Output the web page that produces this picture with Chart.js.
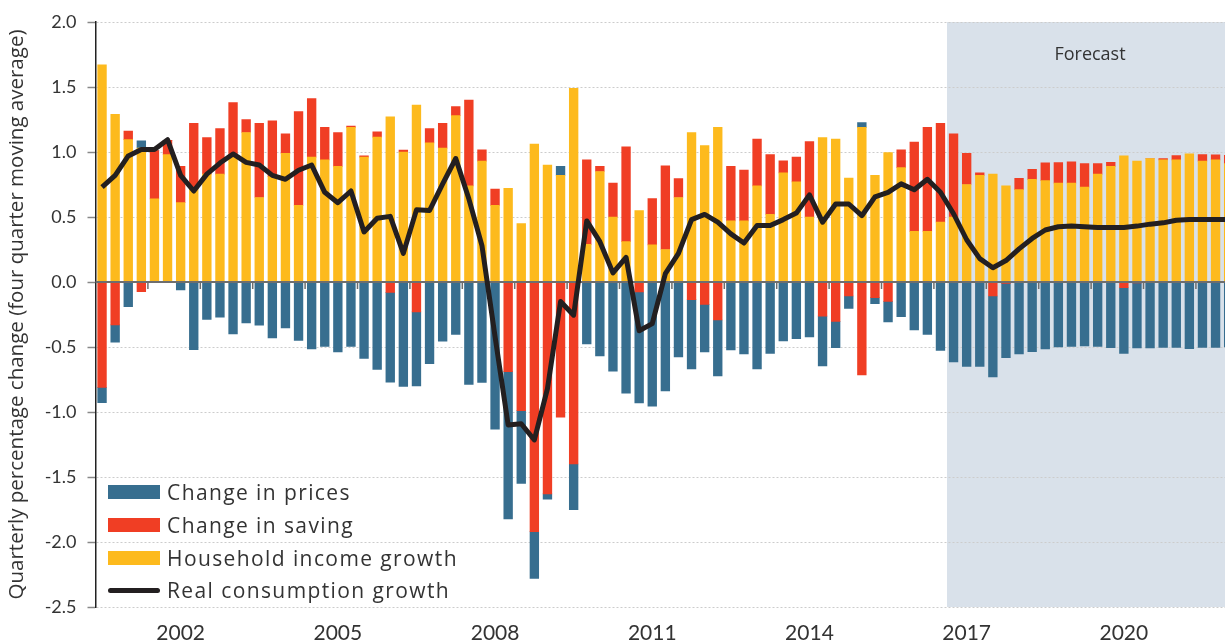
<!DOCTYPE html>
<html>
<head>
<meta charset="utf-8">
<script src="https://cdn.jsdelivr.net/npm/chart.js@4.4.1/dist/chart.umd.min.js"></script>
<style>
  html, body { margin: 0; padding: 0; background: #fff; overflow: hidden; }
  #wrap { position: relative; width: 1225px; height: 644px; }
  #legend { position: absolute; left: 108px; top: 476px; font-family: "Open Sans", Lato, sans-serif; font-size: 21px; letter-spacing: 1.4px; color: #333; }
  #legend .item { height: 32.7px; display: flex; align-items: center; white-space: nowrap; }
  #legend .swatch { width: 52px; height: 14px; margin-right: 7px; flex: none; }
  #legend .swatch.line { height: 5px; border-radius: 3px; }
</style>
</head>
<body>
<div id="wrap">
  <canvas id="chart" width="1225" height="644"></canvas>
  <div id="legend"></div>
</div>
<script>
// quarterly data, first bar is 2001 Q1
const startYear = 2001;

const income = [
  1.67, 1.29, 1.095, 1.03, 0.64, 0.98, 0.61, 0.72, 0.83, 0.83,
  0.98, 1.15, 0.65, 0.81, 0.99, 0.59, 0.96, 0.94, 0.89, 1.19,
  0.96, 1.115, 1.27, 1.00, 1.36, 1.07, 1.03, 1.28, 0.74, 0.93,
  0.59, 0.72, 0.45, 1.06, 0.90, 0.82, 1.49, 0.29, 0.85, 0.50,
  0.31, 0.55, 0.285, 0.25, 0.65, 1.15, 1.05, 1.19, 0.47, 0.47,
  0.74, 0.52, 0.84, 0.77, 0.50, 1.11, 1.10, 0.80, 1.19, 0.82,
  0.995, 0.88, 0.39, 0.39, 0.46, 0.50, 0.75, 0.82, 0.83, 0.74,
  0.71, 0.79, 0.78, 0.76, 0.76, 0.73, 0.83, 0.89, 0.97, 0.93,
  0.95, 0.94, 0.94, 0.985, 0.93, 0.94, 0.91
];

const saving = [
  -0.81, -0.33, 0.065, -0.074, 0.37, 0.11, 0.28, 0.50, 0.28, 0.35,
  0.40, 0.10, 0.57, 0.43, 0.15, 0.72, 0.45, 0.25, 0.26, 0.01,
  0.01, 0.04, -0.08, 0.015, -0.23, 0.11, 0.19, 0.07, 0.66, 0.087,
  0.125, -0.69, -0.99, -1.92, -1.63, -1.04, -1.40, 0.65, 0.04, 0.26,
  0.73, -0.077, 0.356, 0.644, 0.146, -0.136, -0.172, -0.292, 0.42, 0.39,
  0.36, 0.46, 0.093, 0.19, 0.58, -0.262, -0.303, -0.108, -0.715, -0.12,
  -0.149, 0.136, 0.687, 0.80, 0.76, 0.64, 0.24, 0.02, -0.108, -0.01,
  0.087, 0.077, 0.136, 0.159, 0.164, 0.18, 0.08, 0.03, -0.044, -0.008,
  0, 0.01, 0.033, -0.005, 0.051, 0.038, 0.064
];

const prices = [
  -0.118, -0.133, -0.19, 0.055, 0, 0, -0.06, -0.52, -0.287, -0.27,
  -0.40, -0.315, -0.333, -0.43, -0.354, -0.449, -0.515, -0.495, -0.538, -0.495,
  -0.587, -0.672, -0.69, -0.803, -0.57, -0.628, -0.456, -0.403, -0.787, -0.772,
  -1.133, -1.133, -0.559, -0.36, -0.041, 0.07, -0.351, -0.477, -0.569, -0.685,
  -0.856, -0.854, -0.956, -0.838, -0.577, -0.533, -0.366, -0.431, -0.523, -0.554,
  -0.669, -0.549, -0.454, -0.436, -0.423, -0.384, -0.203, -0.095, 0.036, -0.046,
  -0.159, -0.267, -0.369, -0.403, -0.526, -0.615, -0.649, -0.649, -0.623, -0.572,
  -0.554, -0.536, -0.515, -0.50, -0.495, -0.492, -0.495, -0.505, -0.505, -0.50,
  -0.508, -0.503, -0.503, -0.508, -0.503, -0.503, -0.50
];

const consumption = [
  0.73, 0.82, 0.97, 1.02, 1.02, 1.095, 0.82, 0.70, 0.83, 0.915,
  0.985, 0.92, 0.90, 0.82, 0.79, 0.86, 0.90, 0.69, 0.61, 0.70,
  0.385, 0.49, 0.505, 0.22, 0.555, 0.55, 0.755, 0.95, 0.64, 0.28,
  -0.42, -1.10, -1.09, -1.215, -0.82, -0.15, -0.255, 0.47, 0.31, 0.07,
  0.19, -0.375, -0.32, 0.065, 0.22, 0.48, 0.52, 0.46, 0.37, 0.30,
  0.435, 0.435, 0.48, 0.53, 0.67, 0.46, 0.60, 0.60, 0.51, 0.655,
  0.69, 0.755, 0.71, 0.79, 0.69, 0.525, 0.325, 0.18, 0.11, 0.165,
  0.255, 0.335, 0.40, 0.425, 0.43, 0.425, 0.42, 0.42, 0.42, 0.43,
  0.445, 0.455, 0.475, 0.48, 0.48, 0.48, 0.48
];

const quarters = income.map((v, i) => (startYear + Math.floor(i / 4)) + ' Q' + (i % 4 + 1));
const tickYears = ['2002', '2005', '2008', '2011', '2014', '2017', '2020'];
const forecastFrom = '2017 Q2';

const FONT = 'Lato, "Noto Sans", sans-serif';
const WIDE = '"Open Sans", Lato, sans-serif';
const colors = { prices: '#376e8f', saving: '#f03e24', income: '#fdba1d', line: '#231f20' };

const pts = arr => arr.map((v, i) => ({ x: i + 1, y: v }));

// forecast shading, zero line with year ticks, forecast label
const extras = {
  id: 'extras',
  beforeDraw(chart) {
    const { ctx, chartArea: a, scales: { x } } = chart;
    const fx = x.getPixelForValue(quarters.indexOf(forecastFrom) + 0.5);
    ctx.save();
    ctx.fillStyle = '#d9e1ea';
    ctx.fillRect(fx, a.top, a.right - fx, a.bottom - a.top);
    ctx.restore();
  },
  beforeDatasetDraw(chart, args) {
    if (args.meta.type !== 'line') return;
    const { ctx, chartArea: a, scales: { x, y } } = chart;
    const y0 = y.getPixelForValue(0);
    ctx.save();
    ctx.strokeStyle = '#6e6e6e';
    ctx.lineWidth = 2;
    ctx.beginPath();
    ctx.moveTo(a.left, y0);
    ctx.lineTo(a.right, y0);
    ctx.stroke();
    ctx.lineWidth = 1.5;
    ctx.beginPath();
    quarters.forEach((q, i) => {
      if (i > 0 && q.endsWith('Q1')) {
        const px = x.getPixelForValue(i + 0.5);
        ctx.moveTo(px, y0);
        ctx.lineTo(px, y0 + 7);
      }
    });
    ctx.stroke();
    ctx.restore();
  },
  afterDraw(chart) {
    const { ctx, chartArea: a, scales: { x } } = chart;
    const fx = x.getPixelForValue(quarters.indexOf(forecastFrom) + 0.5);
    ctx.save();
    ctx.fillStyle = '#333';
    ctx.font = '18px ' + WIDE;
    ctx.textAlign = 'center';
    ctx.textBaseline = 'middle';
    ctx.fillText('Forecast', (fx + a.right) / 2 + 4, 55);
    ctx.restore();
  }
};

new Chart(document.getElementById('chart'), {
  type: 'bar',
  data: {
    datasets: [
      {
        type: 'line',
        label: 'Real consumption growth',
        data: pts(consumption),
        borderColor: colors.line,
        borderWidth: 5,
        pointRadius: 0,
        borderJoinStyle: 'round',
        order: 0
      },
      { label: 'Household income growth', data: pts(income), backgroundColor: colors.income, barThickness: 8.7, order: 1 },
      { label: 'Change in saving', data: pts(saving), backgroundColor: colors.saving, barThickness: 8.7, order: 1 },
      { label: 'Change in prices', data: pts(prices), backgroundColor: colors.prices, barThickness: 8.7, order: 1 }
    ]
  },
  options: {
    responsive: false,
    animation: false,
    devicePixelRatio: 1,
    layout: { padding: { top: 22, left: 0, right: 0, bottom: 0 } },
    plugins: { legend: { display: false }, tooltip: { enabled: false } },
    scales: {
      x: {
        type: 'linear',
        stacked: true,
        offset: false,
        min: 0.5,
        max: income.length - 0.28,
        grid: { display: false, drawTicks: false, offset: false },
        border: { display: false },
        afterBuildTicks: s => { s.ticks = tickYears.map(yr => ({ value: quarters.indexOf(yr + ' Q3') + 1 })); },
        afterFit: s => { s.height = 37; },
        ticks: {
          autoSkip: false, maxRotation: 0, padding: 14, color: '#333',
          font: { family: FONT, size: 21 },
          callback: v => quarters[v - 1].slice(0, 4)
        }
      },
      y: {
        stacked: true,
        min: -2.5,
        max: 2,
        afterFit: s => { s.width = 95.5; },
        ticks: {
          stepSize: 0.5, padding: 11, color: '#333',
          font: { family: FONT, size: 18 },
          callback: v => v.toFixed(1)
        },
        grid: { color: '#cccccc', lineWidth: 1, tickColor: '#888', tickLength: 8, tickWidth: 1.5 },
        border: { display: true, color: '#222', width: 1.5, dash: [2, 2] },
        title: {
          display: true,
          text: 'Quarterly percentage change (four quarter moving average)',
          color: '#333',
          font: { family: WIDE, size: 20.5 },
          padding: { top: 5, bottom: 0 }
        }
      }
    }
  },
  plugins: [extras]
});

// legend, drawn in the order of the reference
const legendItems = [
  { label: 'Change in prices', color: colors.prices },
  { label: 'Change in saving', color: colors.saving },
  { label: 'Household income growth', color: colors.income },
  { label: 'Real consumption growth', color: colors.line, line: true }
];
document.getElementById('legend').innerHTML = legendItems.map(it =>
  '<div class="item"><span class="swatch' + (it.line ? ' line' : '') + '" style="background:' + it.color + '"></span>' + it.label + '</div>'
).join('');
</script>
</body>
</html>
